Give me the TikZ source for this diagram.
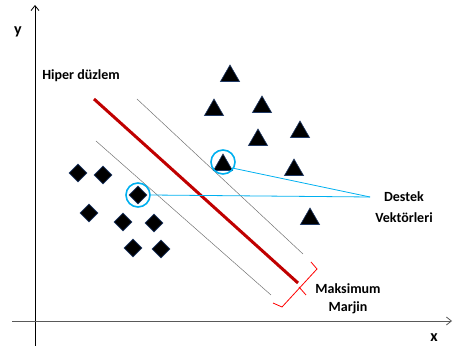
\documentclass[tikz,border=0pt]{standalone}
\usepackage{fontspec}
\setmainfont{Carlito}
\usetikzlibrary{shapes.geometric,arrows.meta}
\definecolor{sv}{HTML}{00B0F0}
\definecolor{hyp}{HTML}{C00000}
\definecolor{edge}{HTML}{1F3864}
\tikzset{
  tri/.style={regular polygon, regular polygon sides=3, fill=black, draw=edge, line width=0.6pt, minimum size=22pt, inner sep=0pt},
  dia/.style={diamond, fill=black, draw=edge, line width=0.6pt, minimum width=18pt, minimum height=18pt, inner sep=0pt},
  svc/.style={circle, draw=sv, line width=1.6pt, minimum size=24pt, inner sep=0pt},
  lbl/.style={font=\bfseries\fontsize{14}{20}\selectfont, align=center, inner sep=0pt},
  margin/.style={draw=gray!90!black, line width=0.5pt},
  svline/.style={draw=sv, line width=0.8pt},
}
\begin{document}
\begin{tikzpicture}[x=1pt,y=-1pt]
\useasboundingbox (0,0) rectangle (453,352);
% axes
\coordinate (ybot) at (35,346);
\coordinate (ytop) at (35,5);
\coordinate (xl) at (12,321);
\coordinate (xr) at (452,321);
\draw[line width=0.8pt, -{Straight Barb[length=5pt,width=8pt]}] (ybot) -- (ytop);
\draw[gray!70!black, line width=0.8pt, -{Straight Barb[length=5pt,width=8pt]}] (xl) -- (xr);
\node[lbl, font=\bfseries\fontsize{16}{18}\selectfont] (ylab) at (18,32) {y};
\node[lbl, font=\bfseries\fontsize{16}{18}\selectfont] (xlab) at (434,338) {x};
\node[lbl] (hiper) at (81,76) {Hiper düzlem};
% margin lines
\coordinate (m1a) at (137,99); \coordinate (m1b) at (303,254);
\coordinate (m2a) at (96,141); \coordinate (m2b) at (271,295);
\draw[margin] (m1a) -- (m1b);
\draw[margin] (m2a) -- (m2b);
% hyperplane
\coordinate (ha) at (94,99); \coordinate (hb) at (298,283);
\draw[hyp, line width=3pt] (ha) -- (hb);
% triangles
\node[tri] (t1) at (230,76) {};
\node[tri] (t2) at (214,110) {};
\node[tri] (t3) at (262,107) {};
\node[tri] (t4) at (258,140) {};
\node[tri] (t5) at (300,132) {};
\node[tri] (t6) at (223,165) {};
\node[tri] (t7) at (294,170) {};
\node[tri] (t8) at (310,219) {};
% diamonds
\node[dia] (d1) at (78,173) {};
\node[dia] (d2) at (103,175) {};
\node[dia] (d3) at (138,195) {};
\node[dia] (d4) at (89,213) {};
\node[dia] (d5) at (123,222) {};
\node[dia] (d6) at (154,223) {};
\node[dia] (d7) at (133,248) {};
\node[dia] (d8) at (161,249) {};
% support vector circles
\node[svc] (c1) at (223,162) {};
\node[svc] (c2) at (138,195) {};
\coordinate (dest) at (370,197);
\draw[svline] (c1.-30) -- (dest);
\draw[svline] (c2.east) -- (dest);
\node[lbl, font=\bfseries\fontsize{14}{21}\selectfont] (destek) at (404,207) {Destek\\Vektörleri};
% bracket
\coordinate (b1) at (311,262); \coordinate (b2) at (317,269);
\coordinate (b3) at (282,307); \coordinate (b4) at (273,303);
\coordinate (bt1) at (299,287); \coordinate (bt2) at (306,295);
\draw[red, line width=0.8pt] (b1) -- (b2) -- (b3) -- (b4);
\draw[red, line width=0.8pt] (bt1) -- (bt2);
\node[lbl, font=\bfseries\fontsize{14}{18}\selectfont] (marjin) at (348,299) {Maksimum\\Marjin};
\end{tikzpicture}
\end{document}
